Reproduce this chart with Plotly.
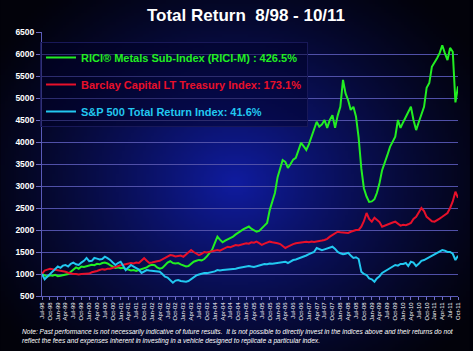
import base64, struct, zlib
import pandas as pd
import plotly.graph_objects as go

# ---------------- data (monthly, Jul-98 .. Oct-11) ----------------
dates = pd.date_range("1998-07-01", periods=160, freq="MS")

rici_metals = [
    1000, 960, 940, 970, 960, 980,                                   # 1998
    950, 960, 975, 990, 1000, 1050, 1100, 1150, 1120, 1170, 1160, 1180,  # 1999
    1190, 1210, 1200, 1230, 1220, 1250, 1260, 1240, 1200, 1170, 1140, 1150,  # 2000
    1130, 1140, 1110, 1100, 1080, 1090, 1070, 1090, 1110, 1130, 1150, 1190,  # 2001
    1210, 1200, 1150, 1120, 1140, 1200, 1260, 1290, 1250, 1240, 1250, 1220,  # 2002
    1190, 1170, 1180, 1230, 1280, 1300, 1320, 1310, 1340, 1400, 1480, 1550,  # 2003
    1700, 1850, 1780, 1720, 1760, 1790, 1820, 1850, 1900, 1930, 1980, 2020,  # 2004
    2060, 2080, 2030, 1990, 1960, 1980, 2050, 2100, 2160, 2450, 2650, 2840,  # 2005
    3200, 3400, 3590, 3550, 3410, 3500, 3600, 3640, 3800, 3980, 3900, 3820,  # 2006
    3950, 4120, 4300, 4460, 4350, 4400, 4500, 4320, 4500, 4610, 4320, 4600,  # 2007
    4800, 5410, 5110, 4950, 4730, 4800, 4580, 4100, 3400, 2950, 2760, 2640,  # 2008
    2650, 2700, 2840, 3070, 3360, 3520, 3700, 3890, 4000, 4120, 4500, 4320,  # 2009
    4450, 4580, 4700, 4800, 4500, 4270, 4450, 4650, 4800, 5230, 5340, 5710,  # 2010
    5800, 5910, 6020, 6200, 6020, 5860, 6140, 6050, 4900, 5265,              # 2011
]

barclay_lt = [
    1000, 1080, 1100, 1120, 1110, 1100,
    1080, 1070, 1060, 1050, 1030, 1010, 1000, 1000, 990, 1000, 1000, 995,
    1010, 1040, 1050, 1070, 1090, 1110, 1100, 1120, 1120, 1140, 1160, 1190,
    1200, 1210, 1220, 1230, 1250, 1240, 1260, 1250, 1300, 1360, 1300, 1250,
    1260, 1280, 1290, 1300, 1330, 1360, 1380, 1430, 1420, 1400, 1410, 1420,
    1390, 1450, 1500, 1545, 1500, 1460, 1430, 1460, 1500, 1490, 1500, 1510,
    1530, 1545, 1530, 1560, 1600, 1620, 1610, 1640, 1660, 1650, 1670, 1690,
    1700, 1690, 1720, 1710, 1735, 1700, 1660, 1690, 1720, 1735, 1720, 1700,
    1697, 1680, 1640, 1591, 1620, 1659, 1680, 1700, 1712, 1720, 1730, 1735,
    1720, 1740, 1730, 1735, 1750, 1760, 1773, 1800, 1848, 1880, 1920, 1961,
    1950, 1940, 1935, 1932, 1960, 1980, 2000, 2000, 2075, 2200, 2386, 2250,
    2189, 2280, 2227, 2180, 2075, 2100, 2130, 2159, 2170, 2189, 2150, 2100,
    2120, 2110, 2130, 2160, 2250, 2300, 2400, 2500, 2430, 2300, 2250, 2200,
    2189, 2220, 2260, 2300, 2350, 2386, 2500, 2650, 2870, 2731,
]

sp500_tr = [
    1000, 880, 940, 1000, 1060, 1120,
    1170, 1140, 1190, 1205, 1170, 1230, 1257, 1220, 1205, 1260, 1300, 1364,
    1290, 1300, 1364, 1350, 1330, 1340, 1393, 1360, 1320, 1260, 1205, 1250,
    1280, 1180, 1090, 1150, 1205, 1170, 1136, 1100, 1023, 1060, 1090, 1080,
    1075, 1060, 1050, 1053, 1000, 939, 920, 860, 802, 850, 864, 840,
    830, 826, 840, 880, 939, 970, 990, 1010, 1023, 1020, 1030, 1040,
    1060, 1090, 1080, 1090, 1095, 1100, 1100, 1110, 1120, 1136, 1150, 1160,
    1170, 1182, 1170, 1160, 1175, 1190, 1205, 1227, 1220, 1240, 1235, 1245,
    1250, 1260, 1270, 1280, 1250, 1290, 1318, 1330, 1350, 1370, 1393, 1420,
    1450, 1470, 1500, 1591, 1560, 1540, 1560, 1580, 1600, 1620, 1570, 1500,
    1470, 1450, 1460, 1480, 1420, 1364, 1380, 1340, 1053, 1000, 977, 900,
    880, 826, 900, 950, 1023, 1060, 1100, 1129, 1160, 1205, 1190, 1230,
    1230, 1250, 1180, 1280, 1260, 1180, 1230, 1300, 1318, 1350, 1400, 1432,
    1460, 1500, 1520, 1545, 1530, 1500, 1500, 1460, 1318, 1416,
]

series_names = [
    "RICI® Metals Sub-Index (RICI-M) : 426.5%",
    "Barclay Capital LT Treasury Index: 173.1%",
    "S&P 500 Total Return Index: 41.6%",
]
series_colors = ["#22ee22", "#e8102a", "#22c8f0"]
y_ticks = list(range(500, 6501, 500))

assert len(rici_metals) == len(barclay_lt) == len(sp500_tr) == len(dates)

# ---------------- background gradient image ----------------
def make_png(w, h, fn):
    raw = bytearray()
    for j in range(h):
        raw.append(0)
        for i in range(w):
            raw.extend(fn(i / (w - 1), j / (h - 1)))
    def chunk(tag, data):
        c = struct.pack(">I", len(data)) + tag + data
        return c + struct.pack(">I", zlib.crc32(tag + data) & 0xffffffff)
    png = b"\x89PNG\r\n\x1a\n"
    png += chunk(b"IHDR", struct.pack(">IIBBBBB", w, h, 8, 2, 0, 0, 0))
    png += chunk(b"IDAT", zlib.compress(bytes(raw), 9))
    png += chunk(b"IEND", b"")
    return "data:image/png;base64," + base64.b64encode(png).decode()

def grad(u, v):
    cx, cy = 0.50, 0.52
    dx = (u - cx) / 0.62
    dy = (v - cy) / 0.72
    d = min(1.0, (dx * dx + dy * dy) ** 0.5)
    t = (1 - d) ** 1.3
    r = int(2 + 14 * t)
    g = int(2 + 26 * t)
    b = int(10 + 150 * t)
    return (r, g, b)

bg_src = make_png(160, 120, grad)

W, H = 473, 351
L, R, T, B = 42, 12, 32, 55
pw, ph = W - L - R, H - T - B

fig = go.Figure()
for name, vals, col in zip(series_names, [rici_metals, barclay_lt, sp500_tr], series_colors):
    fig.add_trace(go.Scatter(
        x=dates, y=vals, mode="lines",
        name=f"<span style='color:{col}'>{name}</span>", legendgroup=name,
        line=dict(color=col, width=2),
    ))

fig.add_layout_image(dict(
    source=bg_src, xref="paper", yref="paper",
    x=-L / pw, y=1 + T / ph, sizex=W / pw, sizey=H / ph,
    xanchor="left", yanchor="top", sizing="stretch", layer="below",
))

fig.update_layout(
    width=W, height=H,
    margin=dict(l=L, r=R, t=T, b=B),
    paper_bgcolor="#000008",
    plot_bgcolor="rgba(0,0,0,0)",
    font=dict(family="Arial, Liberation Sans, sans-serif", color="white"),
    title=dict(
        text="Total Return\u00a0\u00a08/98 - 10/11",
        x=246 / W, xanchor="center", y=1 - 15 / H, yanchor="middle",
        font=dict(size=17, color="white", weight="bold"),
    ),
    showlegend=True,
    legend=dict(
        x=-2 / pw, y=1 - 10 / ph, xanchor="left", yanchor="top",
        bgcolor="rgba(0,0,40,0.45)", bordercolor="#181858", borderwidth=1,
        font=dict(size=11, weight="bold"),
        itemwidth=30, tracegroupgap=8,
    ),
    xaxis=dict(
        range=[dates[0], dates[-1]],
        tick0="1998-07-01", dtick="M3", tickformat="%b-%y",
        tickangle=-90, tickfont=dict(size=6, color="white"),
        ticks="outside", ticklen=3, tickcolor="#7070c8",
        showgrid=False, showline=True, linecolor="#5a5ab8", linewidth=1,
        zeroline=False,
    ),
    yaxis=dict(
        range=[500, 6500], tickvals=y_ticks,
        tickfont=dict(size=8.5, color="white", weight="bold"),
        ticks="outside", ticklen=5, tickcolor="#6a6ac0",
        showgrid=True, gridcolor="#5050a8", gridwidth=1,
        showline=True, linecolor="#5a5ab8", linewidth=1,
        zeroline=False,
    ),
)

fig.add_annotation(
    xref="paper", yref="paper", x=-22 / pw, y=-(326 - (H - B)) / ph,
    xanchor="left", yanchor="top", align="left", showarrow=False,
    text=("Note: Past performance is not necessarily indicative of future results.  "
          "It is not possible to directly invest in the indices above and their returns do not<br>"
          "reflect the fees and expenses inherent in investing in a vehicle designed to replicate a particular index."),
    font=dict(size=6.6, color="white", style="italic"),
)

fig.write_html("out.html")
